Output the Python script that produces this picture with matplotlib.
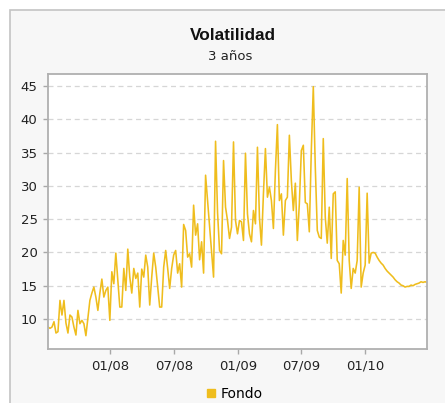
import numpy as np
import pandas as pd
import matplotlib
matplotlib.use("Agg")
import matplotlib.pyplot as plt
import matplotlib.dates as mdates
from matplotlib.patches import Rectangle
from matplotlib.lines import Line2D

# Volatilidad semanal del fondo (3 años)
inicio = "2007-07-06"
fin = "2010-06-28"
volatilidad = [
    8.8, 8.6, 8.8, 9.6, 7.9, 8.1, 12.8, 10.6, 12.8, 9.4, 7.9, 10.6, 10.3, 8.8, 7.6,
    11.3, 9.3, 9.8, 9.3, 7.5, 10.2, 12.8, 13.9, 14.8, 13.3, 11.3, 13.9, 16.0, 13.3,
    14.3, 14.8, 9.8, 17.1, 15.3, 19.9, 15.8, 11.8, 11.8, 17.6, 14.3, 20.5, 16.3,
    13.9, 17.6, 16.1, 16.9, 11.8, 17.5, 16.3, 19.6, 17.8, 12.1, 16.3, 19.9, 17.8,
    14.8, 11.8, 11.8, 17.8, 20.3, 17.6, 14.6, 17.6, 19.6, 20.3, 16.9, 18.3, 14.8,
    24.2, 23.3, 19.3, 19.8, 17.8, 27.1, 22.6, 24.3, 18.9, 21.6, 16.9, 31.6, 27.8,
    24.1, 20.3, 16.3, 36.7, 26.0, 20.3, 19.8, 33.8, 26.8, 24.8, 22.1, 23.8, 36.6,
    24.8, 22.8, 24.8, 24.6, 21.8, 34.9, 25.8, 22.8, 21.6, 26.3, 24.3, 35.8, 25.3,
    21.1, 28.8, 35.6, 28.3, 29.8, 27.8, 23.6, 32.3, 39.2, 27.8, 28.8, 22.6, 27.8,
    28.3, 37.6, 30.8, 26.3, 30.4, 21.8, 27.3, 35.3, 36.1, 27.5, 27.3, 23.1, 35.3,
    44.9, 32.8, 23.3, 22.3, 22.1, 37.1, 25.3, 21.4, 26.8, 19.1, 28.8, 29.1, 18.8,
    18.3, 13.9, 21.8, 19.6, 31.1, 18.8, 14.6, 17.6, 16.9, 18.8, 29.8, 14.8, 16.9,
    18.1, 28.9, 18.4, 19.9, 20.0, 19.9, 19.3, 18.8, 18.4, 18.1, 17.6, 17.2, 16.9,
    16.6, 16.3, 15.9, 15.6, 15.4, 15.1, 15.0, 14.8, 14.9, 14.9, 15.1, 15.0, 15.2,
    15.3, 15.4, 15.6, 15.5, 15.6, 15.5,
]
y_ticks = [10, 15, 20, 25, 30, 35, 40, 45]

fechas = pd.date_range(inicio, fin, periods=len(volatilidad))
color = "#efbd1d"

fig = plt.figure(figsize=(4.45, 4.03), dpi=100)
fig.patch.set_facecolor("white")
# panel gris de fondo
fig.patches.append(Rectangle((10 / 445, -0.01), 1.0, 1 - 10 / 403 + 0.01,
                             transform=fig.transFigure, facecolor="#f7f7f7",
                             edgecolor="#c4c4c4", linewidth=1.2, zorder=-1))

ax = fig.add_axes([48 / 445, 1 - 349 / 403, (427 - 48) / 445, (349 - 74) / 403])
ax.set_facecolor("white")
ax.plot(fechas, volatilidad, color=color, linewidth=1.15, solid_joinstyle="round")

ax.set_xlim(fechas[0], fechas[-1])
ax.set_ylim(5.5, 46.8)
ax.set_yticks(y_ticks)
ax.xaxis.set_major_locator(mdates.MonthLocator(bymonth=[1, 7]))
ax.xaxis.set_major_formatter(mdates.DateFormatter("%m/%y"))

ax.grid(axis="y", color="#d6d6d6", linestyle=(0, (4, 3)), linewidth=0.9)
ax.grid(axis="x", visible=False)
for s in ax.spines.values():
    s.set_color("#b0b0b0")
    s.set_linewidth(1.3)
ax.tick_params(axis="both", colors="#a8a8a8", labelcolor="#222222",
               labelsize=9.5, length=3.5, width=1.0, pad=4)

fig.text(233 / 445, 1 - 36 / 403, "Volatilidad", ha="center", va="center",
         fontsize=12.4, fontweight="bold", family="Liberation Sans", color="#111111")
fig.text(230 / 445, 1 - 57 / 403, "3 años", ha="center", va="center",
         fontsize=9.5, color="#222222")

# leyenda
handle = Line2D([], [], marker="s", linestyle="none", markersize=6,
                markerfacecolor=color, markeredgecolor=color)
fig.legend([handle], ["Fondo"], loc="center", bbox_to_anchor=(233 / 445, 1 - 394 / 403),
           frameon=False, fontsize=10, handletextpad=0.2, handlelength=1.0)

fig.savefig("out.png", dpi=100, facecolor=fig.get_facecolor())
